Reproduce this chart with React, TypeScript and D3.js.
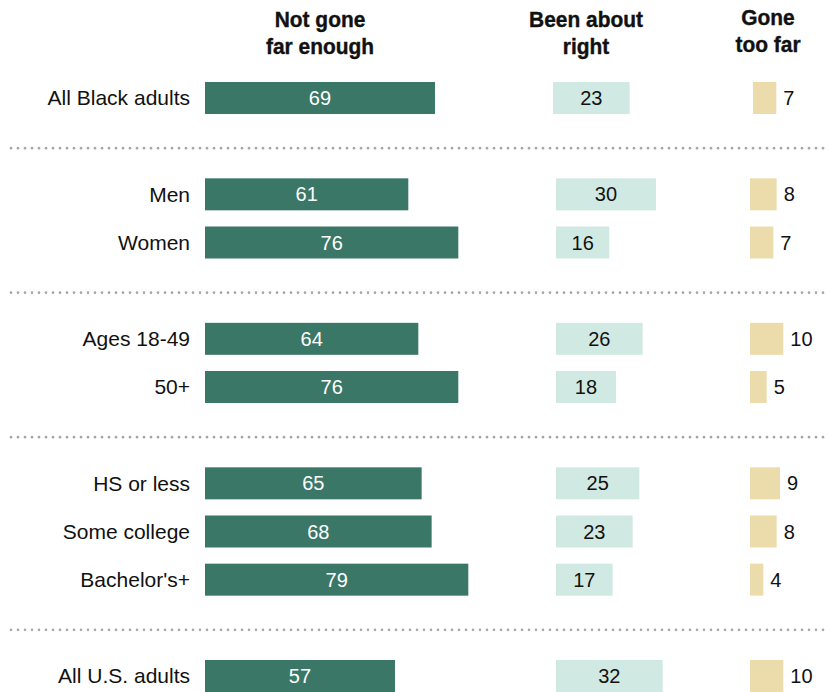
import React from "react";
import * as d3 from "d3";

const categories = ["All Black adults", "Men", "Women", "Ages 18-49", "50+", "HS or less", "Some college", "Bachelor's+", "All U.S. adults"];
const slots = [0, 2, 3, 5, 6, 8, 9, 10, 12];
const notFarEnough = [69, 61, 76, 64, 76, 65, 68, 79, 57];
const aboutRight = [23, 30, 16, 26, 18, 25, 23, 17, 32];
const tooFar = [7, 8, 7, 10, 5, 9, 8, 4, 10];
const dividerSlots = [1, 4, 7, 11];
const headers = [
  { lines: ["Not gone", "far enough"], x: 320, y: 27 },
  { lines: ["Been about", "right"], x: 586, y: 27 },
  { lines: ["Gone", "too far"], x: 768, y: 25 },
];

const W = 830, H = 692;
const DARK = "#3a7767", LIGHT = "#d1e9e3", TAN = "#ecdcab";

export default function App() {
  const x = d3.scaleLinear().domain([0, 100]).range([0, 333.3]);
  const y = d3.scaleLinear().domain([0, 12]).range([98, 676]);
  const barH = 32;
  const col1 = 205;
  const col2 = (i: number) => (i === 0 ? 553 : 556);
  const col3 = (i: number) => (i === 0 ? 753 : 750);
  const dots = d3.range(11, 830, 7);
  const font = "'Liberation Sans', Arial, sans-serif";
  const hfont = "'Liberation Sans', Arial, sans-serif";

  return (
    <div style={{ position: "absolute", left: 0, top: 0 }}>
      <svg width={W} height={H} style={{ display: "block", background: "#fff" }}>
        {headers.map((h, k) => (
          <g key={k} transform={`translate(${h.x},0) scale(0.93,1)`}>
            <text x={0} y={h.y} textAnchor="middle" fontFamily={hfont} fontWeight="bold" fontSize={22.5} fill="#111" stroke="#111" strokeWidth={0.4}>
              {h.lines.map((l, j) => (
                <tspan key={j} x={0} dy={j === 0 ? 0 : 27}>{l}</tspan>
              ))}
            </text>
          </g>
        ))}
        {dividerSlots.map((s) => (
          <g key={s}>
            {dots.map((dx) => (
              <circle key={dx} cx={dx} cy={y(s) + 2} r={1.3} fill="#a6a6a6" />
            ))}
          </g>
        ))}
        {categories.map((c, i) => {
          const cy = y(slots[i]);
          return (
            <g key={c}>
              <text x={190} y={cy} dy="0.35em" textAnchor="end" fontFamily={font} fontSize={21} fill="#111">{c}</text>
              <rect x={col1} y={cy - barH / 2} width={x(notFarEnough[i])} height={barH} fill={DARK} />
              <text x={col1 + x(notFarEnough[i]) / 2} y={cy} dy="0.35em" textAnchor="middle" fontFamily={font} fontSize={20} fill="#fff">{notFarEnough[i]}</text>
              <rect x={col2(i)} y={cy - barH / 2} width={x(aboutRight[i])} height={barH} fill={LIGHT} />
              <text x={col2(i) + x(aboutRight[i]) / 2} y={cy} dy="0.35em" textAnchor="middle" fontFamily={font} fontSize={20} fill="#111">{aboutRight[i]}</text>
              <rect x={col3(i)} y={cy - barH / 2} width={x(tooFar[i])} height={barH} fill={TAN} />
              <text x={col3(i) + x(tooFar[i]) + 7} y={cy} dy="0.35em" textAnchor="start" fontFamily={font} fontSize={20} fill="#111">{tooFar[i]}</text>
            </g>
          );
        })}
      </svg>
    </div>
  );
}
